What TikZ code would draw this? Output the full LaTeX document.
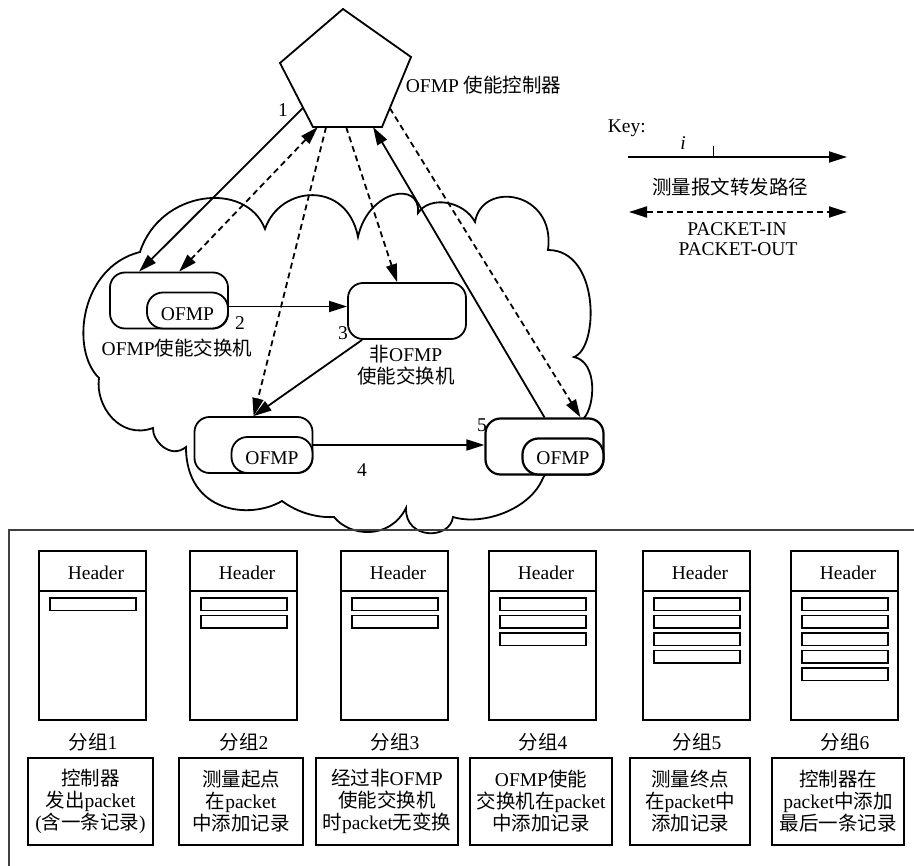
\documentclass[tikz,border=0pt]{standalone}
\usepackage{fontspec}
\setmainfont{Liberation Serif}
\newfontfamily\cjk{Noto Sans CJK SC}
\newcommand\zh[1]{{\cjk #1}}
\usetikzlibrary{arrows.meta,calc}

\tikzset{
  dsh/.style={dash pattern=on 6pt off 4pt},
  sw/.style={draw, rounded corners=15pt, fill=white, minimum width=118pt, minimum height=56pt, inner sep=0pt},
  port/.style={draw, rounded corners=16pt, fill=white, minimum width=81pt, minimum height=36pt, inner sep=0pt, anchor=south east},
  lbl/.style={inner sep=0pt},
  capbox/.style={draw, minimum height=87pt, inner sep=0pt, align=center},
  pktbox/.style={draw, minimum width=107pt, minimum height=169pt, inner sep=0pt}
}

\begin{document}
\begin{tikzpicture}[x=1pt, y=-1pt, line width=1.8pt,
  font=\fontsize{19.5pt}{22pt}\selectfont,
  >={Triangle[length=18pt,width=11pt]}]

\useasboundingbox (0,0) rectangle (914,866);

% network cloud
\draw (140,252)
 .. controls (160,190) and (246,180) .. (265,229)
 .. controls (280,185) and (347,180) .. (358,237)
 .. controls (368,190) and (421,180) .. (418,213)
 .. controls (430,195) and (464,201) .. (475,222)
 .. controls (482,180) and (556,191) .. (548,250)
 .. controls (600,250) and (599,348) .. (574,357)
 .. controls (598,362) and (595,406) .. (584,418)
 -- (560,450) -- (543,478)
 .. controls (530,510) and (482,526) .. (453,517)
 .. controls (450,540) and (405,540) .. (406,508)
 .. controls (390,540) and (350,537) .. (334,517)
 .. controls (318,518) and (298,513) .. (282,501)
 .. controls (250,520) and (186,513) .. (186,447)
 .. controls (170,460) and (152,440) .. (153,428)
 .. controls (120,440) and (95,406) .. (99,378)
 .. controls (70,350) and (80,267) .. (140,252) -- cycle;

% controller (pentagon)
\coordinate (c1) at (343,9);
\coordinate (c2) at (280,63);
\coordinate (c3) at (313,127);
\coordinate (c4) at (382,127);
\coordinate (c5) at (411,57);
\draw[line join=miter] (c1) -- (c2) -- (c3) -- (c4) -- (c5) -- cycle;
\node[lbl, anchor=west] (ctllbl) at (405,85) {OFMP \zh{使能控制器}};

% switches
\node[sw] (A) at (169,300.5) {};
\node[port] (pA) at (A.south east) {};
\node[lbl] (tA) at ([yshift=-4pt]pA.center) {OFMP};
\node[lbl] (lA) at (177,348) {OFMP\zh{使能交换机}};

\node[sw] (B) at (407,311) {};
\node[lbl, align=center] (lB) at (406,365) {\zh{非}OFMP\\\zh{使能交换机}};

\node[sw] (C) at (253.5,445) {};
\node[port] (pC) at (C.south east) {};
\node[lbl] (tC) at ([yshift=-3pt]pC.center) {OFMP};

\node[sw, line width=2.2pt] (E) at (544.5,446.5) {};
\node[port, line width=2.2pt] (pE) at (E.south east) {};
\node[lbl] (tE) at ([yshift=-2pt]pE.center) {OFMP};

% attachment points on the controller
\coordinate (p1) at ($(c2)!0.70!(c3)$);
\coordinate (p2) at ($(c3)!0.07!(c4)$);
\coordinate (p3) at ($(c3)!0.19!(c4)$);
\coordinate (p4) at ($(c3)!0.48!(c4)$);
\coordinate (p5) at ($(c3)!0.87!(c4)$);
\coordinate (p6) at ($(c4)!0.27!(c5)$);

% controller messages
\draw[->] (p1) -- ([xshift=30pt]A.north west);
\draw[<->, dsh] (p2) -- ([xshift=70pt]A.north west);
\draw[->, dsh] (p3) -- ([xshift=60pt]C.north west);
\draw[->, dsh] (p4) -- ([xshift=50pt]B.north west);
\draw[->] (E.north) -- (p5);
\draw[->, dsh] (p6) -- ([xshift=36pt]E.north);

% forwarding path
\coordinate (ab) at ([yshift=-6pt]A.east);
\draw[->] (ab) -- (ab -| B.west);
\draw[->] ([xshift=15pt]B.south west) -- ([xshift=60pt]C.north west);
\draw[->] (C.east) -- (C.east -| E.west);

% hop numbers
\node[lbl] (h1) at (283,110) {1};
\node[lbl] (h2) at (240,323) {2};
\node[lbl] (h3) at (343,333) {3};
\node[lbl] (h4) at (362,470) {4};
\node[lbl] (h5) at (482,425) {5};

% key
\node[lbl, anchor=west] (key) at (607,128) {Key:};
\coordinate (k1a) at (628,157);
\coordinate (k1b) at (847,157);
\draw[->] (k1a) -- (k1b);
\coordinate (kt) at ($(k1a)!0.39!(k1b)$);
\draw[line width=1.4pt] (kt) -- ++(0,-11);
\node[lbl] (ki) at (683,143) {\textit{i}};
\node[lbl] (kp) at (730,187) {\zh{测量报文转发路径}};
\coordinate (k2a) at (629,212);
\coordinate (k2b) at (847,212);
\draw[<->, dsh] (k2a) -- (k2b);
\node[lbl] (kin) at (737,229) {PACKET-IN};
\node[lbl] (kout) at (738,249) {PACKET-OUT};

% lower panel frame
\draw[black!75, line width=1.4pt] (9,866) -- (9,530) -- (914,530);

% packets
\foreach \i/\x/\n in {1/39/1,2/190/2,3/341/2,4/489/3,5/643/4,6/791/5}{
  \node[pktbox] (pk\i) at ({\x+53.5},635.5) {};
  \draw[line width=1.4pt] ({\x},591) -- ({\x+107},591);
  \node[lbl] at ({\x+57},573) {Header};
  \foreach \k in {1,...,\n}{
    \draw ({\x+11},{598+17.5*(\k-1)}) rectangle ++(86,12.5);
  }
  \node[lbl] (g\i) at ({\x+54},742) {\zh{分组}\i};
}

% captions
\node[capbox, minimum width=125pt] (cap1) at (90.5,801.5) {\zh{控制器}\\\zh{发出}packet\\(\zh{含一条记录})};
\node[capbox, minimum width=124pt] (cap2) at (241,801.5) {\zh{测量起点}\\\zh{在}packet\\\zh{中添加记录}};
\node[capbox, minimum width=142pt] (cap3) at (387,801.5) {\zh{经过非}OFMP\\\zh{使能交换机}\\\zh{时}packet\zh{无变换}};
\node[capbox, minimum width=142pt] (cap4) at (541,801.5) {OFMP\zh{使能}\\\zh{交换机在}packet\\\zh{中添加记录}};
\node[capbox, minimum width=120pt] (cap5) at (690,801.5) {\zh{测量终点}\\\zh{在}packet\zh{中}\\\zh{添加记录}};
\node[capbox, minimum width=132pt] (cap6) at (838,801.5) {\zh{控制器在}\\packet\zh{中添加}\\\zh{最后一条记录}};

\end{tikzpicture}
\end{document}
